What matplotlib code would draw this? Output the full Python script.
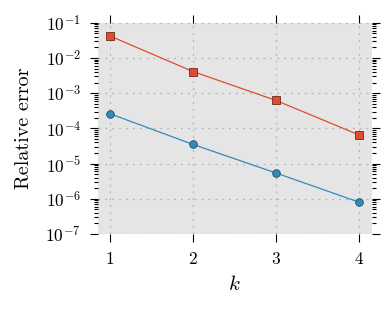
import matplotlib
matplotlib.use("Agg")
from matplotlib import pyplot as plt
from matplotlib.ticker import LogLocator, NullFormatter
import numpy as np

# data
k = [1, 2, 3, 4]
err_red = [4.2e-2, 4.1e-3, 6.2e-4, 6.5e-5]
err_blue = [2.6e-4, 3.5e-5, 5.4e-6, 8.0e-7]

plt.rcParams['font.family'] = 'cmr10'
plt.rcParams['mathtext.fontset'] = 'cm'
plt.rcParams['axes.formatter.use_mathtext'] = True

fig = plt.figure(figsize=(3.88, 3.11), dpi=100)
ax = fig.add_axes([97.5 / 388, 1 - 234 / 311, (371.5 - 97.5) / 388, (234 - 22.7) / 311])
ax.set_facecolor('#E5E5E5')
for s in ax.spines.values():
	s.set_visible(False)

ax.plot(k, err_red, color='#E24A33', lw=0.9, marker='s', ms=5.5,
	mfc='#E24A33', mec='#6a2a20', mew=0.6, zorder=3)
ax.plot(k, err_blue, color='#348ABD', lw=0.9, marker='o', ms=5.5,
	mfc='#348ABD', mec='#1e4a66', mew=0.6, zorder=3)

ax.set_yscale('log')
ax.set_ylim(1e-7, 1e-1)
ax.set_xlim(0.85, 4.15)
ax.set_xticks(k)
ax.yaxis.set_major_locator(LogLocator(base=10, numticks=20))
ax.yaxis.set_minor_locator(LogLocator(base=10, subs=np.arange(2, 10), numticks=100))
ax.yaxis.set_minor_formatter(NullFormatter())

ax.grid(True, which='major', color='#b4b4b4', linestyle=(0, (1.5, 4)), lw=0.9)
ax.tick_params(which='major', direction='out', length=6, width=0.8, pad=6,
	top=True, right=True, labelsize=12.5)
ax.tick_params(which='minor', direction='out', length=3, width=0.8,
	left=True, right=True)
ax.tick_params(axis='x', which='major', pad=6)

ax.set_xlabel('$k$', fontsize=15, labelpad=6)
ax.set_ylabel('Relative error', fontsize=14.5, labelpad=9)

fig.savefig('out.png', dpi=100)
